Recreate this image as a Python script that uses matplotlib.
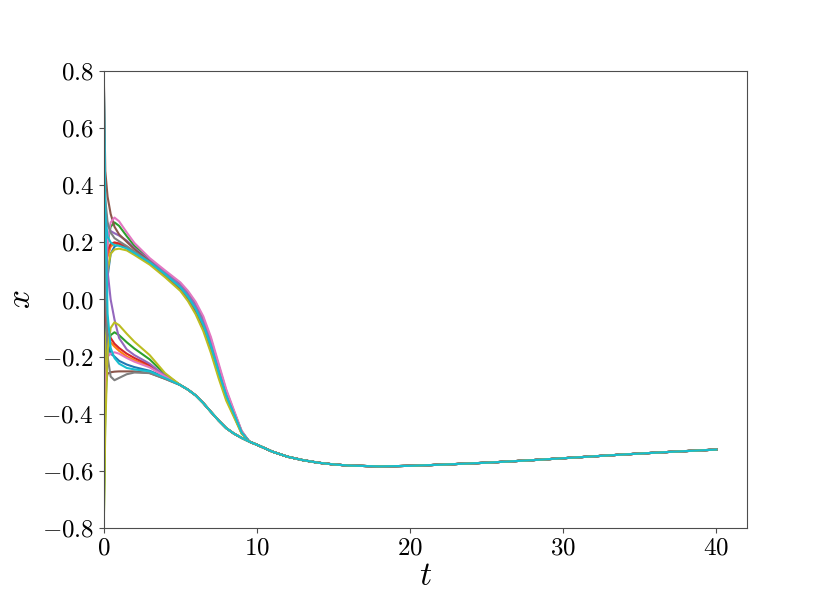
import numpy as np
import matplotlib
matplotlib.use("Agg")
import matplotlib.pyplot as plt

plt.rcParams["font.family"] = "serif"
plt.rcParams["font.serif"] = ["cmr10"]
plt.rcParams["mathtext.fontset"] = "cm"
plt.rcParams["axes.formatter.use_mathtext"] = True

# time grids
t_early = [0, 0.1, 0.25, 0.45, 0.7, 1.0, 1.5, 2.0, 3.0]
t_upper_mid = [4.0, 5.0, 5.5, 6.0, 6.5, 7.0, 7.5, 8.0, 8.5, 9.0]
t_lower_mid = [4.0]
t_lower_shared = [5.0, 5.5, 6.0, 6.5, 7.0, 7.5, 8.0, 8.5, 9.0]
t_tail = [9.5, 10, 11, 12, 13, 14, 15, 16, 18, 20, 22, 25, 28, 31, 34, 37, 40]

# common tail that all trajectories settle on
x_tail = [-0.498, -0.509, -0.533, -0.551, -0.563, -0.572, -0.578, -0.582,
          -0.585, -0.583, -0.579, -0.572, -0.563, -0.553, -0.543, -0.534, -0.526]

# common part of the lower group after it merges
x_lower_shared = [-0.300, -0.316, -0.336, -0.363, -0.394, -0.424, -0.451, -0.470, -0.485]

# upper group (early part, then mid part)
upper_early = {
    "tab:blue":   [-0.75, -0.2, 0.08, 0.16, 0.185, 0.195, 0.182, 0.163, 0.130],
    "tab:orange": [0.35, 0.1, 0.15, 0.185, 0.197, 0.195, 0.180, 0.160, 0.127],
    "tab:green":  [-0.3, 0.05, 0.2, 0.255, 0.27, 0.258, 0.222, 0.188, 0.140],
    "tab:red":    [0.1, 0.12, 0.17, 0.195, 0.2, 0.196, 0.182, 0.163, 0.130],
    "tab:purple": [0.55, 0.32, 0.26, 0.24, 0.232, 0.224, 0.206, 0.180, 0.137],
    "tab:brown":  [0.8, 0.45, 0.36, 0.3, 0.255, 0.228, 0.202, 0.176, 0.133],
    "tab:pink":   [-0.5, 0.02, 0.2, 0.27, 0.287, 0.274, 0.235, 0.198, 0.145],
    "tab:gray":   [0.8, 0.35, 0.27, 0.235, 0.215, 0.204, 0.187, 0.168, 0.132],
    "tab:olive":  [-0.8, -0.1, 0.1, 0.16, 0.175, 0.178, 0.172, 0.156, 0.122],
    "tab:cyan":   [0.65, 0.3, 0.22, 0.2, 0.19, 0.188, 0.179, 0.163, 0.130],
}
upper_mid = {
    "tab:blue":   [0.091, 0.047, 0.014, -0.028, -0.082, -0.157, -0.247, -0.333, -0.399, -0.465],
    "tab:orange": [0.082, 0.034, -0.001, -0.045, -0.103, -0.180, -0.268, -0.349, -0.408, -0.469],
    "tab:green":  [0.098, 0.056, 0.025, -0.015, -0.067, -0.140, -0.232, -0.321, -0.392, -0.461],
    "tab:red":    [0.090, 0.045, 0.012, -0.030, -0.085, -0.160, -0.250, -0.335, -0.400, -0.465],
    "tab:purple": [0.095, 0.051, 0.019, -0.021, -0.075, -0.149, -0.240, -0.327, -0.395, -0.463],
    "tab:brown":  [0.084, 0.037, 0.003, -0.041, -0.098, -0.174, -0.263, -0.345, -0.406, -0.468],
    "tab:pink":   [0.102, 0.060, 0.030, -0.008, -0.059, -0.132, -0.224, -0.315, -0.388, -0.460],
    "tab:gray":   [0.088, 0.042, 0.008, -0.034, -0.090, -0.166, -0.255, -0.339, -0.402, -0.466],
    "tab:olive":  [0.078, 0.030, -0.006, -0.052, -0.111, -0.188, -0.276, -0.355, -0.412, -0.470],
    "tab:cyan":   [0.089, 0.043, 0.010, -0.032, -0.088, -0.163, -0.253, -0.337, -0.401, -0.466],
}

# lower group (early part incl. t=4)
lower_early = {
    "tab:blue":   [0.2, -0.05, -0.15, -0.19, -0.2, -0.215, -0.228, -0.237, -0.25, -0.272],
    "tab:orange": [0.3, 0.0, -0.12, -0.15, -0.165, -0.18, -0.2, -0.213, -0.235, -0.27],
    "tab:green":  [-0.8, -0.4, -0.17, -0.125, -0.115, -0.125, -0.15, -0.172, -0.21, -0.262],
    "tab:red":    [0.15, -0.05, -0.12, -0.135, -0.155, -0.17, -0.19, -0.205, -0.23, -0.268],
    "tab:purple": [0.6, 0.25, 0.1, 0.0, -0.07, -0.135, -0.175, -0.195, -0.225, -0.267],
    "tab:brown":  [-0.45, -0.3, -0.26, -0.255, -0.253, -0.252, -0.252, -0.252, -0.258, -0.278],
    "tab:pink":   [-0.6, -0.3, -0.2, -0.19, -0.185, -0.19, -0.205, -0.218, -0.238, -0.27],
    "tab:gray":   [0.8, 0.1, -0.2, -0.27, -0.283, -0.275, -0.262, -0.256, -0.258, -0.278],
    "tab:olive":  [-0.8, -0.45, -0.18, -0.1, -0.08, -0.09, -0.12, -0.148, -0.195, -0.258],
    "tab:cyan":   [0.8, 0.3, -0.05, -0.17, -0.205, -0.225, -0.24, -0.245, -0.252, -0.275],
}

fig, ax = plt.subplots(figsize=(8.3, 5.93), dpi=100)

t_up = t_early + t_upper_mid + t_tail
for c in upper_early:
    ax.plot(t_up, upper_early[c] + upper_mid[c] + x_tail, color=c, linewidth=1.5)

t_lo = t_early + t_lower_mid + t_lower_shared + t_tail
for c in lower_early:
    ax.plot(t_lo, lower_early[c] + x_lower_shared + x_tail, color=c, linewidth=1.5)

ax.set_xlim(0, 42)
ax.set_ylim(-0.8, 0.8)
ax.set_xticks([0, 10, 20, 30, 40])
ax.set_yticks(np.arange(-0.8, 0.81, 0.2))
ax.set_xlabel(r"$t$", fontsize=24, labelpad=2)
ax.set_ylabel(r"$x$", fontsize=24)
ax.tick_params(axis="both", which="major", labelsize=18, color="0.3")
for s in ax.spines.values():
    s.set_color("0.3")

plt.savefig("out.png", dpi=100)
